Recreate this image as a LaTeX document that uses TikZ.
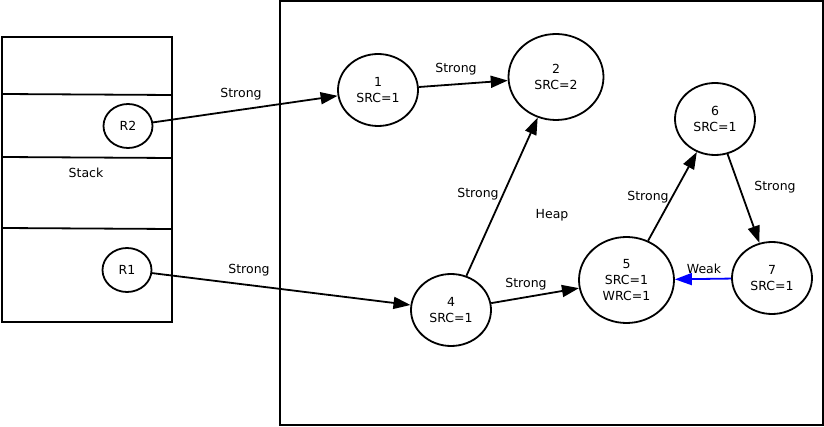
\documentclass[tikz,border=0pt]{standalone}
\usepackage{fontspec}
\setmainfont{DejaVu Sans}
\usetikzlibrary{shapes.geometric,arrows.meta}
\begin{document}
\begin{tikzpicture}[x=1pt,y=-1pt,
  every node/.style={font=\fontsize{12.5}{16}\selectfont},
  obj/.style={draw,ellipse,line width=1.8pt,inner sep=0pt,align=center,minimum width=80pt,minimum height=72pt},
  big/.style={minimum width=95pt,minimum height=86pt},
  ref/.style={draw,ellipse,line width=1.8pt,inner sep=0pt,minimum width=49pt,minimum height=44pt},
  conn/.style={line width=1.8pt,-{Triangle[length=17pt,width=12pt]}},
  weak/.style={conn,blue},
  lbl/.style={inner sep=1pt}]
\useasboundingbox (0,0) rectangle (824,427);
% stack
\draw[line width=1.8pt] (2,37) rectangle (172,322);
\draw[line width=1.8pt] (2,94) -- (172,95);
\draw[line width=1.8pt] (2,157) -- (172,158);
\draw[line width=1.8pt] (2,228) -- (172,229);
\node (stack) at (86,173) {Stack};
\node[ref] (r2) at (128,126) {R2};
\node[ref] (r1) at (127,270) {R1};
% heap
\draw[line width=1.8pt] (280,1) rectangle (823,425);
\node (heap) at (552,215) {Heap};
\node[obj] (n1) at (378,90) {1\\SRC=1};
\node[obj,big] (n2) at (556,77) {2\\SRC=2};
\node[obj] (n6) at (715,119) {6\\SRC=1};
\node[obj] (n4) at (451,310) {4\\SRC=1};
\node[obj,big] (n5) at (626.5,280) {5\\SRC=1\\WRC=1};
\node[obj] (n7) at (772,278) {7\\SRC=1};
% connectors
\draw[conn] (r2) -- (n1);
\draw[conn] (r1) -- (n4);
\draw[conn] (n1) -- (n2);
\draw[conn] (n4) -- (n2);
\draw[conn] (n4) -- (n5);
\draw[conn] (n5) -- (n6);
\draw[conn] (n6) -- (n7);
\draw[weak] (n7) -- (n5);
% labels
\node[lbl] at (241,94.5) {Strong};
\node[lbl] at (249,270.5) {Strong};
\node[lbl] at (456,69.5) {Strong};
\node[lbl] at (478,194.5) {Strong};
\node[lbl] at (526,284.5) {Strong};
\node[lbl] at (648,197.5) {Strong};
\node[lbl] at (775,187.5) {Strong};
\node[lbl] at (704,268.5) {Weak};
\end{tikzpicture}
\end{document}
